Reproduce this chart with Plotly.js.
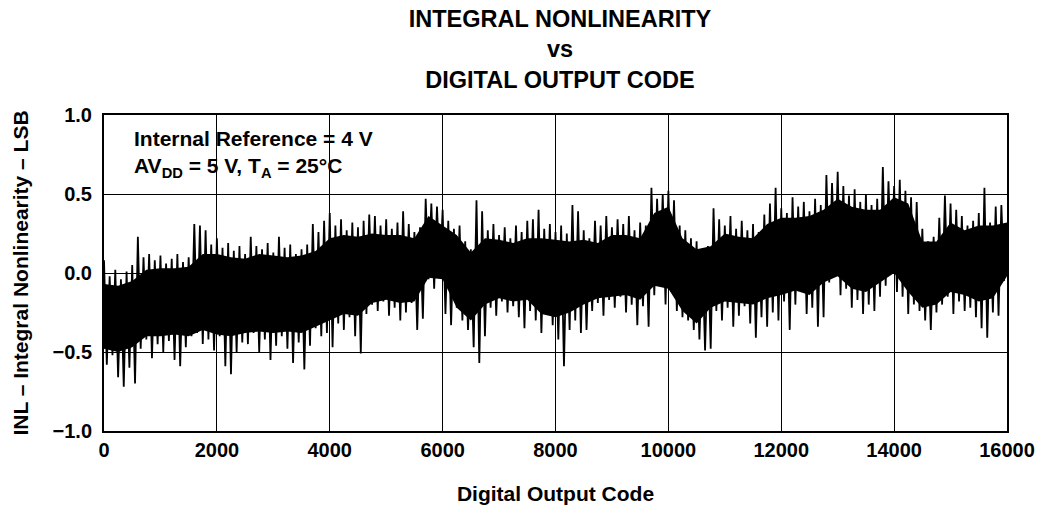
<!DOCTYPE html>
<html>
<head>
<meta charset="utf-8">
<script src="https://cdn.plot.ly/plotly-3.0.1.min.js"></script>
<style>
html,body{margin:0;padding:0;background:#ffffff;}
#chart{width:1037px;height:510px;}
</style>
</head>
<body>
<div id="chart"></div>
<script>
// ---- tick labels ----
const xTickValues = [0, 2000, 4000, 6000, 8000, 10000, 12000, 14000, 16000];
const xTickLabels = ['0', '2000', '4000', '6000', '8000', '10000', '12000', '14000', '16000'];
const yTickValues = [-1.0, -0.5, 0.0, 0.5, 1.0];
const yTickLabels = ['\u22121.0', '\u22120.5', '0.0', '0.5', '1.0'];

// ---- INL trace: one upper and one lower excursion per 100-code bin ----
const codeBinWidth = 100;
const spikeHigh = [
  0.08, -0.02, 0.02, -0.04, 0.01,
  0.05, 0.23, 0.10, 0.12, 0.08, 0.11, 0.06, 0.09, 0.12, 0.07, 0.10,
  0.31, 0.30, 0.27, 0.18, 0.22, 0.16, 0.19, 0.14, 0.17,
  0.12, 0.23, 0.17, 0.15, 0.19, 0.13, 0.23, 0.16, 0.18, 0.12,
  0.15, 0.18, 0.31, 0.26, 0.33,
  0.38, 0.30, 0.34, 0.27, 0.32, 0.29,
  0.33, 0.37, 0.36, 0.30, 0.34, 0.28, 0.32, 0.39, 0.31, 0.26, 0.29,
  0.47, 0.44, 0.42,
  0.40, 0.33, 0.28, 0.30, 0.20, 0.15,
  0.46, 0.39, 0.27, 0.31, 0.24, 0.29, 0.22, 0.30, 0.26, 0.33,
  0.34, 0.40, 0.28, 0.31, 0.26, 0.30, 0.25,
  0.43, 0.39, 0.27, 0.22, 0.33, 0.30, 0.36, 0.29, 0.34, 0.31, 0.36, 0.27, 0.32, 0.30,
  0.54, 0.47, 0.50, 0.52, 0.46,
  0.30, 0.27, 0.22, 0.20, 0.15, 0.17,
  0.41, 0.34, 0.30, 0.36, 0.28, 0.33, 0.27, 0.31, 0.26,
  0.37, 0.44, 0.54, 0.41, 0.38, 0.48, 0.42, 0.45, 0.39, 0.47, 0.43,
  0.62, 0.57, 0.64, 0.55, 0.49, 0.53, 0.45, 0.50, 0.43, 0.47,
  0.67, 0.58, 0.55, 0.59, 0.52, 0.48, 0.45,
  0.28, 0.20, 0.23,
  0.35, 0.49, 0.44, 0.40, 0.36, 0.30, 0.33, 0.38, 0.54, 0.32, 0.42, 0.43
];
const spikeLow = [
  -0.58, -0.52, -0.66, -0.72, -0.60,
  -0.70, -0.48, -0.42, -0.54, -0.45, -0.50, -0.43, -0.55, -0.59, -0.47, -0.40,
  -0.38, -0.45, -0.42, -0.49, -0.40, -0.59, -0.64, -0.50, -0.44,
  -0.45, -0.38, -0.50, -0.42, -0.55, -0.46, -0.40, -0.48, -0.57, -0.44,
  -0.61, -0.46, -0.35, -0.40, -0.38,
  -0.47, -0.32, -0.36, -0.28, -0.40, -0.51,
  -0.26, -0.20, -0.24, -0.18, -0.27, -0.22, -0.30, -0.25, -0.19, -0.36, -0.29,
  -0.04, -0.10, -0.03,
  -0.26, -0.33, -0.22, -0.30, -0.36, -0.47,
  -0.57, -0.40, -0.22, -0.27, -0.18, -0.25, -0.21, -0.28, -0.35, -0.24,
  -0.30, -0.38, -0.26, -0.33, -0.42, -0.59, -0.36,
  -0.30, -0.38, -0.36, -0.24, -0.19, -0.27, -0.17, -0.22, -0.15, -0.25, -0.20, -0.33, -0.21, -0.34,
  -0.14, -0.08, -0.20, -0.12, -0.24,
  -0.28, -0.30, -0.36, -0.42, -0.49, -0.48,
  -0.24, -0.30, -0.22, -0.34, -0.27, -0.21, -0.32, -0.41, -0.28,
  -0.34, -0.25, -0.30, -0.18, -0.36, -0.20, -0.12, -0.26, -0.22, -0.34, -0.28,
  -0.06, -0.02, -0.14, -0.10, -0.22, -0.17, -0.26, -0.20, -0.24, -0.15,
  -0.08, 0.00, -0.12, -0.15, -0.26, -0.20, -0.24,
  -0.30, -0.36, -0.25,
  -0.20, -0.15, -0.26, -0.18, -0.24, -0.22, -0.28, -0.35, -0.41, -0.25, -0.27, -0.05
];

// ---- solid dense mass of the INL band (where the trace is fully black), read every 250 codes ----
const coreCodes = [
  0, 250, 500, 750, 1000, 1250, 1500, 1750, 2000, 2250, 2500, 2750, 3000, 3250, 3500, 3750,
  4000, 4250, 4500, 4750, 5000, 5250, 5500, 5750, 6000, 6250, 6500, 6750, 7000, 7250, 7500, 7750,
  8000, 8250, 8500, 8750, 9000, 9250, 9500, 9750, 10000, 10250, 10500, 10750, 11000, 11250, 11500, 11750,
  12000, 12250, 12500, 12750, 13000, 13250, 13500, 13750, 14000, 14250, 14500, 14750, 15000, 15250, 15500, 15750,
  16000
];
const coreTop = [
  -0.07, -0.08, -0.05, 0.02, 0.03, 0.03, 0.04, 0.12, 0.12, 0.10, 0.09, 0.12, 0.11, 0.10, 0.11, 0.14,
  0.22, 0.24, 0.23, 0.25, 0.24, 0.24, 0.22, 0.36, 0.30, 0.24, 0.13, 0.22, 0.21, 0.19, 0.22, 0.22,
  0.21, 0.20, 0.21, 0.19, 0.24, 0.24, 0.22, 0.38, 0.42, 0.22, 0.15, 0.17, 0.25, 0.23, 0.22, 0.31,
  0.35, 0.35, 0.36, 0.40, 0.47, 0.42, 0.40, 0.40, 0.48, 0.44, 0.20, 0.20, 0.32, 0.27, 0.30, 0.30,
  0.32
];
const coreBottom = [
  -0.48, -0.50, -0.47, -0.40, -0.40, -0.39, -0.40, -0.36, -0.39, -0.40, -0.38, -0.37, -0.38, -0.37, -0.38, -0.34,
  -0.30, -0.26, -0.27, -0.19, -0.17, -0.19, -0.18, -0.03, -0.04, -0.22, -0.30, -0.20, -0.16, -0.18, -0.17, -0.26,
  -0.28, -0.25, -0.20, -0.16, -0.15, -0.14, -0.17, -0.08, -0.10, -0.24, -0.32, -0.22, -0.18, -0.19, -0.20, -0.16,
  -0.14, -0.11, -0.14, -0.06, -0.02, -0.10, -0.12, -0.06, 0.00, -0.12, -0.22, -0.20, -0.12, -0.14, -0.18, -0.16,
  -0.02
];

// build the zig-zag trace from the bins
const inlX = [], inlY = [];
for (let i = 0; i < spikeHigh.length; i++) {
  inlX.push(i * codeBinWidth);
  inlY.push(spikeHigh[i]);
  inlX.push(i * codeBinWidth + codeBinWidth / 2);
  inlY.push(spikeLow[i]);
}

const FONT = 'Liberation Sans, Arial, Helvetica, sans-serif';

const traces = [
  {x: coreCodes, y: coreBottom, type: 'scatter', mode: 'lines', line: {width: 0, color: '#000'}, hoverinfo: 'skip'},
  {x: coreCodes, y: coreTop, type: 'scatter', mode: 'lines', line: {width: 0, color: '#000'},
   fill: 'tonexty', fillcolor: '#000000', hoverinfo: 'skip'},
  {x: inlX, y: inlY, type: 'scatter', mode: 'lines', line: {width: 1.8, color: '#000'}, hoverinfo: 'skip'}
];

const layout = {
  width: 1037,
  height: 510,
  margin: {l: 104, r: 30, t: 115, b: 79, pad: 0},
  paper_bgcolor: '#ffffff',
  plot_bgcolor: '#ffffff',
  showlegend: false,
  font: {family: FONT, color: '#000000', size: 20, weight: 'bold'},
  title: {
    text: 'INTEGRAL NONLINEARITY<br>vs<br>DIGITAL OUTPUT CODE',
    font: {family: FONT, size: 23.5, weight: 'bold', color: '#000'},
    x: 0.54, xref: 'container', xanchor: 'center',
    y: 0.948, yref: 'container', yanchor: 'top'
  },
  xaxis: {
    range: [0, 16000],
    tickvals: xTickValues,
    ticktext: xTickLabels,
    ticks: '',
    showgrid: true, gridcolor: '#000000', gridwidth: 1,
    zeroline: false,
    showline: true, linecolor: '#000000', linewidth: 2, mirror: true,
    tickfont: {family: FONT, size: 20, weight: 'bold', color: '#000'},
    title: {text: 'Digital Output Code', font: {family: FONT, size: 21, weight: 'bold', color: '#000'}, standoff: 26},
    fixedrange: true
  },
  yaxis: {
    range: [-1, 1],
    tickvals: yTickValues,
    ticktext: yTickLabels,
    ticks: '',
    ticklabelstandoff: 6,
    showgrid: true, gridcolor: '#000000', gridwidth: 1,
    zeroline: false,
    showline: true, linecolor: '#000000', linewidth: 2, mirror: true,
    tickfont: {family: FONT, size: 20, weight: 'bold', color: '#000'},
    title: {text: 'INL \u2013 Integral Nonlinearity \u2013 LSB', font: {family: FONT, size: 21, weight: 'bold', color: '#000'}, standoff: 18},
    fixedrange: true
  },
  annotations: [{
    xref: 'paper', yref: 'paper', x: 0.031, y: 0.967, xanchor: 'left', yanchor: 'top', align: 'left',
    showarrow: false,
    text: 'Internal Reference = 4 V<br>AV<sub>DD</sub> = 5 V, T<sub>A</sub> = 25\u00B0C',
    font: {family: FONT, size: 21, weight: 'bold', color: '#000'}
  }]
};

Plotly.newPlot('chart', traces, layout, {staticPlot: true, displayModeBar: false});
</script>
</body>
</html>
